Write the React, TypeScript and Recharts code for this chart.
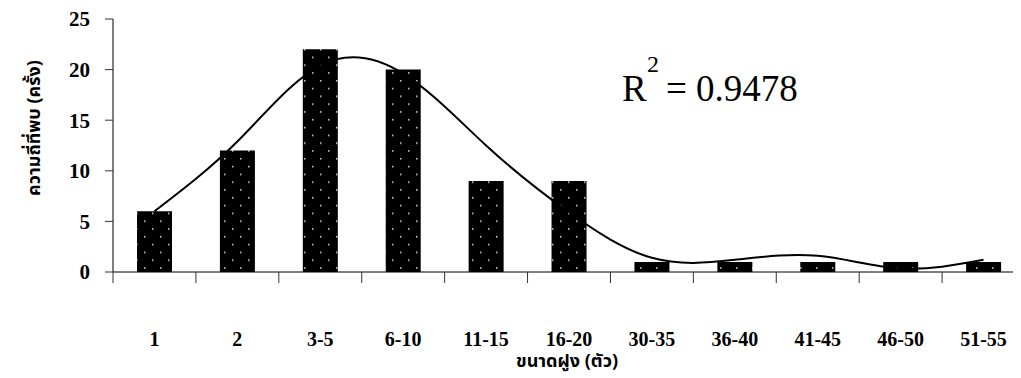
import { Bar, ComposedChart, Line, XAxis, YAxis } from "recharts";

// Herd-size classes on the x axis, with how often each was seen.
const categories = ["1", "2", "3-5", "6-10", "11-15", "16-20", "30-35", "36-40", "41-45", "46-50", "51-55"];
const counts = [6, 12, 22, 20, 9, 9, 1, 1, 1, 1, 1];
// Fitted trend curve at each class centre.
const trend = [6.0, 12.9, 20.4, 19.6, 12.5, 5.9, 1.4, 1.2, 1.6, 0.35, 1.2];
const yTicks = [0, 5, 10, 15, 20, 25];

const data = categories.map((cat, i) => ({ cat, count: counts[i], trend: trend[i] }));

const SERIF = "Liberation Serif, Times New Roman, serif";
const THAI = "Noto Sans Thai, Noto Sans, DejaVu Sans, sans-serif";

// Excel-style ticks: the tick mark sits on the left edge of each band,
// the label in the middle of it.
function CategoryTick(props: any) {
  const { x, y, payload } = props;
  const edge = x - (payload.offset ?? 0);
  return (
    <g>
      <line x1={edge} x2={edge} y1={y} y2={y + 11} stroke="#333" />
      <text
        x={x}
        y={y + 74}
        textAnchor="middle"
        style={{ fontFamily: SERIF, fontWeight: "bold", fontSize: 20 }}
        fill="#000"
      >
        {payload.value}
      </text>
    </g>
  );
}

export default function App() {
  return (
    <div style={{ position: "relative", width: 1021, height: 378, margin: "-8px 0 0 -8px", background: "#fff" }}>
      <ComposedChart
        width={1021}
        height={378}
        data={data}
        margin={{ top: 19, right: -4, bottom: 0, left: 0 }}
      >
        <defs>
          <pattern id="dots" width={16} height={15.6} patternUnits="userSpaceOnUse">
            <rect width={16} height={15.6} fill="#000" />
            <rect x={0} y={2} width={1.5} height={1.5} fill="#ddd" />
            <rect x={8} y={9.8} width={1.5} height={1.5} fill="#ddd" />
          </pattern>
        </defs>
        <XAxis
          dataKey="cat"
          interval={0}
          height={106}
          tickSize={0}
          tickMargin={0}
          tickLine={false}
          axisLine={{ stroke: "#000" }}
          tick={<CategoryTick />}
        />
        <YAxis
          domain={[0, 25]}
          ticks={yTicks}
          width={113}
          tickSize={8}
          tickMargin={15}
          axisLine={{ stroke: "#000" }}
          tickLine={{ stroke: "#333" }}
          tick={{ fill: "#000", style: { fontFamily: SERIF, fontWeight: "bold", fontSize: 21 } }}
        />
        <Bar dataKey="count" barSize={35} fill="url(#dots)" isAnimationActive={false} />
        <Line
          dataKey="trend"
          type="natural"
          stroke="#000"
          strokeWidth={2}
          dot={false}
          isAnimationActive={false}
        />
      </ComposedChart>
      <svg
        width={1021}
        height={378}
        style={{ position: "absolute", left: 0, top: 0, pointerEvents: "none" }}
      >
        <g style={{ fontFamily: SERIF }}>
          <text x={622} y={101} fontSize={37} fill="#000">
            R
          </text>
          <text x={647} y={72} fontSize={24} fill="#000">
            2
          </text>
          <text x={666} y={101} fontSize={37} fill="#000">
            = 0.9478
          </text>
        </g>
        <text
          x={40}
          y={128}
          transform="rotate(-90 40 128)"
          textAnchor="middle"
          style={{ fontFamily: THAI, fontWeight: "bold", fontSize: 18 }}
          fill="#000"
        >
          ความถี่ที่พบ (ครั้ง)
        </text>
        <text
          x={567}
          y={367}
          textAnchor="middle"
          style={{ fontFamily: THAI, fontWeight: "bold", fontSize: 18 }}
          fill="#000"
        >
          ขนาดฝูง (ตัว)
        </text>
      </svg>
    </div>
  );
}
